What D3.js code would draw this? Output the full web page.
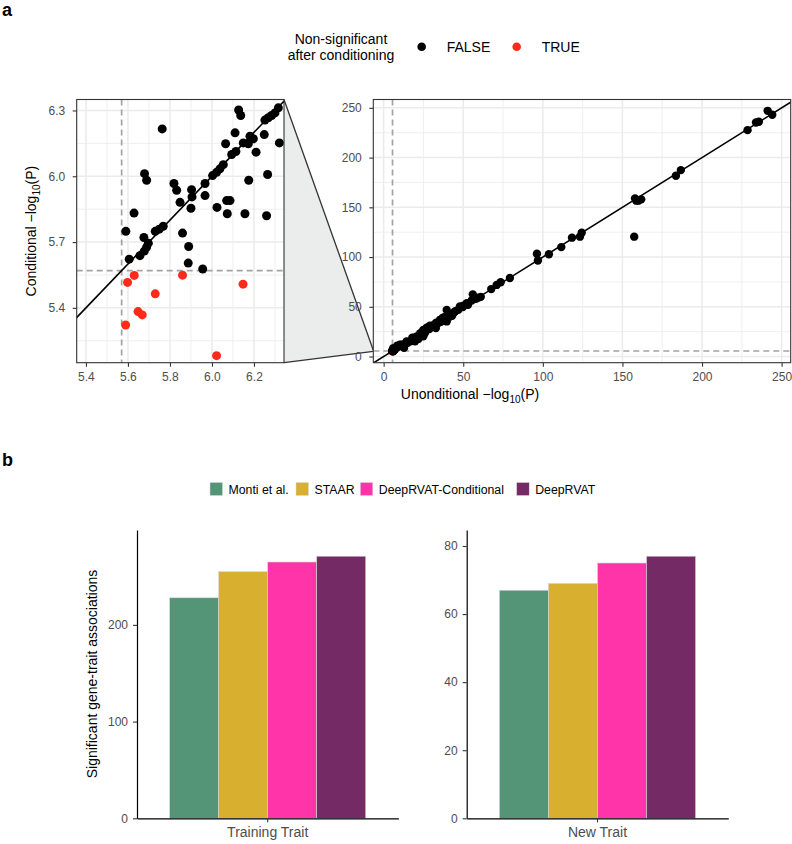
<!DOCTYPE html>
<html>
<head>
<meta charset="utf-8">
<script src="https://cdn.jsdelivr.net/npm/d3@7"></script>
<style>
body { margin: 0; background: #fff; }
text { font-family: "Liberation Sans", Arial, sans-serif; }
</style>
</head>
<body>
<div id="chart"></div>
<script>
// ---- panel a data: unconditional vs conditional -log10(P) ----
// points inside the zoomed window (significant after conditioning)
var zoomUncond = [5.590, 5.606, 5.629, 5.657, 5.676, 5.689, 5.679, 5.689, 5.678, 5.697,
    5.730, 5.749, 5.768, 5.763, 5.819, 5.832, 5.848, 5.860, 5.889, 5.887,
    5.903, 5.905, 5.900, 5.956, 5.967, 5.967, 6.003, 6.022, 6.038, 6.054,
    6.024, 6.070, 6.086, 6.073, 6.065, 6.094, 6.114, 6.110, 6.127, 6.137,
    6.149, 6.173, 6.181, 6.197, 6.157, 6.175, 6.210, 6.249, 6.260, 6.265,
    6.321, 6.252, 6.268, 6.284, 6.300, 6.316];
var zoomCond = [5.749, 5.622, 5.832, 5.638, 5.721, 5.677, 6.012, 5.982, 5.659, 5.695,
    5.749, 5.759, 5.772, 6.216, 5.967, 5.936, 5.881, 5.741, 5.680, 5.604,
    5.939, 5.906, 5.854, 5.577, 5.967, 5.912, 6.003, 6.018, 6.034, 6.053,
    5.858, 5.889, 5.889, 5.829, 6.148, 6.099, 6.113, 6.198, 6.302, 6.277,
    6.152, 6.148, 6.183, 6.171, 5.829, 5.982, 6.110, 6.190, 5.820, 6.008,
    6.152, 6.256, 6.267, 6.277, 6.289, 6.312];

// non-significant after conditioning
var lostUncond = [5.598, 5.630, 5.589, 5.648, 5.668, 5.730, 5.860, 6.022, 6.148];
var lostCond = [5.516, 5.548, 5.322, 5.383, 5.368, 5.464, 5.549, 5.182, 5.508];

// stronger associations, outside the zoomed window
var bigUncond = [241.2, 244.1, 235.7, 233.9, 228.6, 186.7, 183.6, 157.9, 160, 161.8,
    158.7, 157.4, 124.4, 123.3, 118.3, 111.6, 103.8, 96.3, 96.9, 79.3,
    73.5, 71, 67.6, 56, 59.6, 55.3, 52.2, 49.7, 47.9, 46.9,
    44, 39.6, 41.7, 39.6, 37, 35.4, 34.3, 31.6, 32.8, 28.7,
    25.9, 24.9, 24.9, 22.8, 20.7, 21.8, 19.7, 18.6, 16.9, 14.9,
    14.4, 12.8, 11.3, 10.2, 8.6, 7.1, 6.1, 27, 30, 33,
    36, 42, 45, 50, 53, 58, 61, 18, 26, 29, 13, 9, 23, 38, 43];
var bigCond = [247, 243, 236, 235.3, 227.6, 187.4, 181.7, 159, 156.7, 158,
    156.7, 120.5, 124.5, 120.5, 119.5, 110, 102.8, 103.3, 96.5, 79,
    74.7, 72, 67.8, 62.5, 59.2, 56.3, 53.5, 49.7, 50.3, 47,
    44, 46.9, 40.3, 35.3, 38.7, 36.9, 33.7, 32, 28.7, 27.7,
    25.3, 26.8, 20.3, 21, 20.1, 17.7, 15.3, 18.7, 15.3, 13.7,
    15.1, 8.7, 12, 11.8, 11, 7, 8.5, 29, 30.5, 34,
    35, 42, 45.5, 51, 52, 58, 60, 19, 24, 31, 12.5, 9.5, 23.5, 39.5, 41];

var threshold = 5.57;

// ---- panel b data ----
var methods = ["Monti et al.", "STAAR", "DeepRVAT-Conditional", "DeepRVAT"];
var methodColors = ["#559577", "#d9af2f", "#ff34a8", "#742a65"];
var trainingCounts = [228, 255, 265, 271];
var newTraitCounts = [67, 69, 75, 77];

var svg = d3.select("#chart").append("svg")
    .attr("width", 792)
    .attr("height", 844);

var tickGrey = "#4d4d4d";

// panel letters
svg.append("text").attr("x", 2).attr("y", 16)
    .attr("font-size", 18).attr("font-weight", "bold").text("a");
svg.append("text").attr("x", 2).attr("y", 466)
    .attr("font-size", 18).attr("font-weight", "bold").text("b");

// ---- legend a ----
var legA = svg.append("g");
legA.append("text").attr("x", 341).attr("y", 44).attr("text-anchor", "middle")
    .attr("font-size", 14).text("Non-significant");
legA.append("text").attr("x", 341).attr("y", 60).attr("text-anchor", "middle")
    .attr("font-size", 14).text("after conditioning");
[["FALSE", "#000000", 421.7], ["TRUE", "#ff2a1a", 516.7]].forEach(function(d) {
    legA.append("circle").attr("cx", d[2]).attr("cy", 46.7).attr("r", 4.3).attr("fill", d[1]);
    legA.append("text").attr("x", d[2] + 25).attr("y", 51.5)
        .attr("font-size", 14).text(d[0]);
});

// ---- scatter panels ----
var L = {x0: 76.7, x1: 284, y0: 99.5, y1: 362.7};
var R = {x0: 373.3, x1: 790.7, y0: 99.5, y1: 362.7};

var xL = d3.scaleLinear().domain([5.356, 6.343]).range([L.x0, L.x1]);
var yL = d3.scaleLinear().domain([5.15, 6.35]).range([L.y1, L.y0]);
var xR = d3.scaleLinear().domain([-6.5, 255.7]).range([R.x0, R.x1]);
var yR = d3.scaleLinear().domain([-6.2, 258.4]).range([R.y1, R.y0]);

// zoom connector (drawn first, panels sit on top)
svg.append("path")
    .attr("d", d3.line()([
        [L.x1, L.y0], [R.x0, yR(6.35)], [R.x0, yR(5.15)], [L.x1, L.y1]
    ]))
    .attr("fill", "#ebedec")
    .attr("stroke", "none");
svg.append("line").attr("x1", L.x1).attr("y1", L.y0).attr("x2", R.x0).attr("y2", yR(6.35))
    .attr("stroke", "#333").attr("stroke-width", 1.3);
svg.append("line").attr("x1", L.x1).attr("y1", L.y1).attr("x2", R.x0).attr("y2", yR(5.15))
    .attr("stroke", "#333").attr("stroke-width", 1.3);

// red points first so the black ones sit on top of them
var allPoints = [];
lostUncond.forEach(function(v, i) { allPoints.push({u: v, c: lostCond[i], lost: true}); });
bigUncond.forEach(function(v, i) { allPoints.push({u: v, c: bigCond[i], lost: false}); });
zoomUncond.forEach(function(v, i) { allPoints.push({u: v, c: zoomCond[i], lost: false}); });

function drawScatter(P, x, y, xMajor, xMinor, yMajor, yMinor, id, r) {
    var g = svg.append("g");
    g.append("rect").attr("x", P.x0).attr("y", P.y0)
        .attr("width", P.x1 - P.x0).attr("height", P.y1 - P.y0).attr("fill", "#fff");

    var defs = g.append("defs");
    defs.append("clipPath").attr("id", id)
        .append("rect").attr("x", P.x0).attr("y", P.y0)
        .attr("width", P.x1 - P.x0).attr("height", P.y1 - P.y0);

    var inner = g.append("g").attr("clip-path", "url(#" + id + ")");

    // grid
    xMinor.forEach(function(v) {
        inner.append("line").attr("x1", x(v)).attr("x2", x(v)).attr("y1", P.y0).attr("y2", P.y1)
            .attr("stroke", "#ebebeb").attr("stroke-width", 0.8);
    });
    yMinor.forEach(function(v) {
        inner.append("line").attr("y1", y(v)).attr("y2", y(v)).attr("x1", P.x0).attr("x2", P.x1)
            .attr("stroke", "#ebebeb").attr("stroke-width", 0.8);
    });
    xMajor.forEach(function(v) {
        inner.append("line").attr("x1", x(v)).attr("x2", x(v)).attr("y1", P.y0).attr("y2", P.y1)
            .attr("stroke", "#ebebeb").attr("stroke-width", 1.5);
    });
    yMajor.forEach(function(v) {
        inner.append("line").attr("y1", y(v)).attr("y2", y(v)).attr("x1", P.x0).attr("x2", P.x1)
            .attr("stroke", "#ebebeb").attr("stroke-width", 1.5);
    });

    // threshold lines
    inner.append("line").attr("x1", x(threshold)).attr("x2", x(threshold))
        .attr("y1", P.y0).attr("y2", P.y1)
        .attr("stroke", "#a3a3a3").attr("stroke-width", 1.7).attr("stroke-dasharray", "6,4");
    inner.append("line").attr("y1", y(threshold)).attr("y2", y(threshold))
        .attr("x1", P.x0).attr("x2", P.x1)
        .attr("stroke", "#a3a3a3").attr("stroke-width", 1.7).attr("stroke-dasharray", "6,4");

    // identity line
    var lo = Math.min(x.domain()[0], y.domain()[0]) - 10,
        hi = Math.max(x.domain()[1], y.domain()[1]) + 10;
    inner.append("line").attr("x1", x(lo)).attr("y1", y(lo)).attr("x2", x(hi)).attr("y2", y(hi))
        .attr("stroke", "#000").attr("stroke-width", 1.6);

    // points
    inner.selectAll(".pt").data(allPoints)
        .enter().append("circle")
        .attr("cx", function(d) { return x(d.u); })
        .attr("cy", function(d) { return y(d.c); })
        .attr("r", r)
        .attr("fill", function(d) { return d.lost ? "#ff2a1a" : "#000"; });

    // border
    g.append("rect").attr("x", P.x0).attr("y", P.y0)
        .attr("width", P.x1 - P.x0).attr("height", P.y1 - P.y0)
        .attr("fill", "none").attr("stroke", "#333").attr("stroke-width", 1.1);

    // axes
    var ax = g.append("g").attr("transform", "translate(0," + P.y1 + ")")
        .call(d3.axisBottom(x).tickValues(xMajor).tickSize(4).tickPadding(6)
            .tickFormat(function(d) { return x.domain()[1] < 10 ? d3.format(".1f")(d) : d; }));
    var ay = g.append("g").attr("transform", "translate(" + P.x0 + ",0)")
        .call(d3.axisLeft(y).tickValues(yMajor).tickSize(4).tickPadding(7.5)
            .tickFormat(function(d) { return y.domain()[1] < 10 ? d3.format(".1f")(d) : d; }));
    [ax, ay].forEach(function(a) {
        a.select(".domain").remove();
        a.selectAll(".tick line").attr("stroke", "#333").attr("stroke-width", 1.1);
        a.selectAll(".tick text").attr("fill", tickGrey).attr("font-size", 12)
            .attr("font-family", "Liberation Sans, Arial, sans-serif");
    });
}

drawScatter(L, xL, yL,
    [5.4, 5.6, 5.8, 6.0, 6.2], [5.5, 5.7, 5.9, 6.1, 6.3],
    [5.4, 5.7, 6.0, 6.3], [5.25, 5.55, 5.85, 6.15],
    "clipL", 4.5);
drawScatter(R, xR, yR,
    [0, 50, 100, 150, 200, 250], [25, 75, 125, 175, 225],
    [0, 50, 100, 150, 200, 250], [25, 75, 125, 175, 225],
    "clipR", 4.2);

// axis titles for panel a
var yt = svg.append("text")
    .attr("transform", "translate(36," + ((L.y0 + L.y1) / 2) + ") rotate(-90)")
    .attr("text-anchor", "middle").attr("font-size", 14);
yt.append("tspan").text("Conditional \u2212log");
yt.append("tspan").attr("font-size", 10).attr("dy", 4).text("10");
yt.append("tspan").attr("dy", -4).text("(P)");

var xt = svg.append("text")
    .attr("x", 470).attr("y", 399)
    .attr("text-anchor", "middle").attr("font-size", 14);
xt.append("tspan").text("Unonditional \u2212log");
xt.append("tspan").attr("font-size", 10).attr("dy", 4).text("10");
xt.append("tspan").attr("dy", -4).text("(P)");

// ---- legend b ----
var legB = svg.append("g");
var legBx = [210, 296, 360.3, 516.7];
methods.forEach(function(m, i) {
    legB.append("rect").attr("x", legBx[i]).attr("y", 482.5).attr("width", 12.5).attr("height", 13)
        .attr("fill", methodColors[i]).attr("stroke", "#d9d9d9").attr("stroke-width", 0.5);
    legB.append("text").attr("x", legBx[i] + 18.5).attr("y", 493.5)
        .attr("font-size", 12.3).text(m);
});

// ---- bar panels ----
function drawBars(x0, x1, yTop, yBottom, label, counts, ticks) {
    var g = svg.append("g");
    var x = d3.scaleBand().domain([label]).range([x0, x1])
        .paddingInner(0.1).paddingOuter(0.15);
    var xm = d3.scaleBand().domain(methods).range([0, x.bandwidth()]);
    var y = d3.scaleLinear().domain([0, d3.max(counts) * 1.1]).range([yBottom, yTop]);

    g.selectAll(".bar").data(counts).enter().append("rect")
        .attr("x", function(d, i) { return x(label) + xm(methods[i]); })
        .attr("y", function(d) { return y(d); })
        .attr("width", xm.bandwidth())
        .attr("height", function(d) { return y(0) - y(d); })
        .attr("fill", function(d, i) { return methodColors[i]; })
        .attr("stroke", "#d6d6d6").attr("stroke-width", 0.6);

    var ax = g.append("g").attr("transform", "translate(0," + yBottom + ")")
        .call(d3.axisBottom(x).tickSize(4).tickSizeOuter(0).tickPadding(5));
    var ay = g.append("g").attr("transform", "translate(" + x0 + ",0)")
        .call(d3.axisLeft(y).tickValues(ticks).tickSize(4).tickSizeOuter(0).tickPadding(5));
    [ax, ay].forEach(function(a) {
        a.select(".domain").attr("stroke", "#000").attr("stroke-width", 1.2);
        a.selectAll(".tick line").attr("stroke", "#333").attr("stroke-width", 1.1);
        a.selectAll(".tick text").attr("fill", tickGrey).attr("font-size", 12)
            .attr("font-family", "Liberation Sans, Arial, sans-serif");
    });
    ax.selectAll(".tick text").attr("font-size", 14);
}

drawBars(137, 398.4, 530, 818.3, "Training Trait", trainingCounts, [0, 100, 200]);
drawBars(466.7, 728.3, 530, 818.3, "New Trait", newTraitCounts, [0, 20, 40, 60, 80]);

svg.append("text")
    .attr("transform", "translate(97,674) rotate(-90)")
    .attr("text-anchor", "middle").attr("font-size", 14)
    .text("Significant gene-trait associations");
</script>
</body>
</html>
